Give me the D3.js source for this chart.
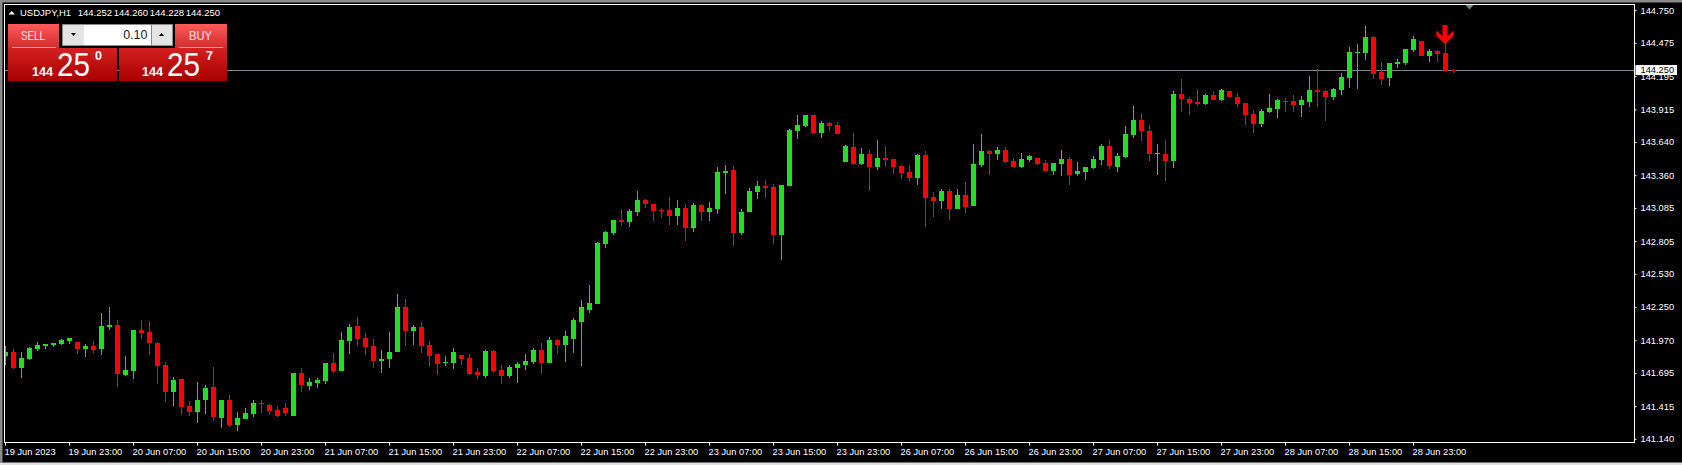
<!DOCTYPE html>
<html><head><meta charset="utf-8">
<script src="https://cdn.jsdelivr.net/npm/d3@7/dist/d3.min.js"></script>
<style>html,body{margin:0;padding:0;background:#000;overflow:hidden}svg{display:block}text{font-family:"Liberation Sans",Arial,sans-serif}</style>
</head><body><script>
const opens=[141.840,141.874,141.739,141.815,141.899,141.925,141.933,141.942,141.967,141.958,
141.899,141.925,141.899,142.085,142.102,141.680,141.714,142.059,142.043,141.950,
141.765,141.537,141.647,141.419,141.369,141.470,141.579,141.318,141.470,141.259,
141.310,141.352,141.444,141.428,141.385,141.403,141.335,141.698,141.588,141.613,
141.630,141.782,141.715,141.968,142.094,141.993,141.925,141.799,141.816,141.875,
142.254,142.052,142.086,141.934,141.858,141.782,141.782,141.850,141.824,141.706,
141.672,141.883,141.723,141.672,141.740,141.765,141.790,141.891,141.782,141.976,
141.933,141.984,142.127,142.228,142.279,142.785,142.877,142.987,142.970,143.054,
143.155,143.122,143.071,143.071,143.020,143.088,142.919,143.113,143.054,143.079,
143.383,143.408,142.877,143.054,143.223,143.273,143.265,142.860,143.273,143.737,
143.779,143.871,143.720,143.804,143.787,143.475,143.602,143.459,143.543,143.433,
143.509,143.501,143.442,143.391,143.341,143.534,143.181,143.147,143.231,143.079,
143.197,143.105,143.450,143.568,143.543,143.576,143.484,143.433,143.492,143.509,
143.467,143.400,143.459,143.501,143.374,143.391,143.425,143.492,143.610,143.433,
143.517,143.703,143.829,143.736,143.543,143.543,143.484,144.048,144.006,143.981,
143.964,144.040,143.997,144.073,144.023,143.972,143.880,143.795,143.896,143.922,
143.989,143.989,143.955,143.981,144.082,144.073,144.023,144.082,144.183,144.393,
144.393,144.528,144.233,144.183,144.301,144.309,144.419,144.495,144.368,144.410,
144.393,144.252];
const highs=[141.925,141.897,141.874,141.916,141.958,141.942,141.950,141.984,141.992,141.958,
141.942,141.967,142.203,142.253,142.144,141.840,142.059,142.144,142.135,141.958,
141.790,141.664,141.647,141.461,141.621,141.596,141.748,141.470,141.512,141.369,
141.402,141.470,141.470,141.436,141.419,141.445,141.698,141.740,141.656,141.656,
141.782,141.866,142.043,142.111,142.170,142.035,141.984,141.892,142.043,142.364,
142.321,142.102,142.128,141.968,141.858,141.841,141.909,141.850,141.858,141.740,
141.891,141.891,141.765,141.765,141.790,141.858,141.908,141.950,142.001,141.984,
142.051,142.161,142.312,142.439,142.801,142.894,142.987,143.079,143.079,143.231,
143.164,143.122,143.088,143.181,143.155,143.122,143.130,143.122,143.138,143.433,
143.450,143.442,143.079,143.256,143.315,143.324,143.290,143.282,143.753,143.871,
143.871,143.871,143.821,143.812,143.812,143.619,143.720,143.593,143.576,143.661,
143.610,143.501,143.450,143.450,143.543,143.568,143.223,143.248,143.248,143.248,
143.307,143.627,143.711,143.576,143.602,143.602,143.509,143.552,143.534,143.509,
143.492,143.467,143.576,143.518,143.475,143.433,143.526,143.627,143.660,143.551,
143.778,143.947,143.888,143.787,143.627,143.660,144.073,144.174,144.023,144.090,
144.048,144.073,144.090,144.073,144.056,143.972,143.913,143.922,144.048,144.006,
144.014,144.040,144.031,144.200,144.259,144.082,144.099,144.225,144.444,144.469,
144.621,144.537,144.318,144.309,144.343,144.427,144.537,144.495,144.427,144.419,
144.469,144.260];
const lows=[141.765,141.731,141.655,141.807,141.883,141.899,141.916,141.933,141.942,141.857,
141.832,141.866,141.849,142.059,141.579,141.672,141.647,141.984,141.849,141.605,
141.453,141.419,141.343,141.335,141.276,141.352,141.293,141.234,141.242,141.211,
141.310,141.327,141.360,141.343,141.327,141.335,141.335,141.537,141.554,141.571,
141.605,141.698,141.715,141.858,141.925,141.850,141.740,141.701,141.740,141.875,
141.925,141.934,141.866,141.749,141.681,141.757,141.732,141.765,141.681,141.647,
141.656,141.698,141.605,141.656,141.613,141.723,141.774,141.689,141.782,141.858,
141.790,141.866,141.756,142.203,142.279,142.751,142.860,142.936,142.928,143.020,
143.088,142.978,143.004,142.945,142.945,142.810,142.886,142.978,142.978,143.037,
143.206,142.768,142.860,143.054,143.164,143.172,142.785,142.650,143.273,143.669,
143.770,143.711,143.678,143.737,143.711,143.475,143.450,143.450,143.231,143.408,
143.433,143.374,143.332,143.315,143.282,142.928,143.012,143.079,142.987,143.079,
143.046,143.105,143.433,143.366,143.492,143.467,143.433,143.425,143.475,143.450,
143.400,143.366,143.358,143.282,143.358,143.324,143.416,143.450,143.416,143.391,
143.509,143.677,143.652,143.484,143.366,143.315,143.425,143.896,143.871,143.947,
143.955,143.997,143.989,144.014,143.939,143.787,143.719,143.770,143.888,143.846,
143.896,143.896,143.855,143.939,143.939,143.821,143.997,144.040,144.099,144.090,
144.334,144.174,144.124,144.116,144.267,144.293,144.402,144.368,144.318,144.318,
144.233,144.228];
const closes=[141.874,141.739,141.824,141.908,141.933,141.942,141.950,141.975,141.992,141.899,
141.925,141.891,142.093,142.102,141.689,141.722,142.059,142.034,141.950,141.756,
141.537,141.638,141.411,141.369,141.470,141.571,141.327,141.470,141.259,141.318,
141.360,141.444,141.436,141.377,141.335,141.361,141.698,141.597,141.622,141.639,
141.782,141.715,141.976,142.086,141.984,141.917,141.799,141.816,141.875,142.254,
142.052,142.086,141.925,141.841,141.774,141.791,141.875,141.816,141.689,141.681,
141.883,141.715,141.672,141.748,141.774,141.799,141.891,141.782,141.976,141.934,
142.009,142.144,142.254,142.287,142.793,142.886,142.987,142.970,143.063,143.155,
143.122,143.063,143.063,143.020,143.088,142.919,143.113,143.054,143.088,143.391,
143.400,142.877,143.054,143.231,143.273,143.256,142.860,143.282,143.745,143.787,
143.871,143.720,143.804,143.779,143.711,143.610,143.459,143.543,143.433,143.509,
143.492,143.433,143.383,143.341,143.534,143.172,143.147,143.231,143.079,143.197,
143.096,143.459,143.568,143.543,143.576,143.475,143.433,143.501,143.526,143.459,
143.400,143.467,143.501,143.366,143.400,143.433,143.500,143.610,143.441,143.526,
143.711,143.829,143.736,143.543,143.551,143.484,144.048,144.006,143.972,143.964,
144.040,143.997,144.082,144.023,143.964,143.871,143.795,143.905,143.930,143.997,
143.981,143.955,143.997,144.082,144.065,144.023,144.090,144.191,144.402,144.402,
144.528,144.217,144.174,144.309,144.318,144.427,144.511,144.368,144.410,144.389,
144.242,144.250];
const yTicks=[144.750,144.475,144.195,143.915,143.640,143.360,143.085,142.805,142.530,142.250,141.970,141.695,141.415,141.140];
const timeLabels=["19 Jun 2023","19 Jun 23:00","20 Jun 07:00","20 Jun 15:00","20 Jun 23:00","21 Jun 07:00","21 Jun 15:00","21 Jun 23:00","22 Jun 07:00","22 Jun 15:00","22 Jun 23:00","23 Jun 07:00","23 Jun 15:00","23 Jun 23:00","26 Jun 07:00","26 Jun 15:00","26 Jun 23:00","27 Jun 07:00","27 Jun 15:00","27 Jun 23:00","28 Jun 07:00","28 Jun 15:00","28 Jun 23:00"];
const titleParts=["USDJPY,H1","144.252","144.260","144.228","144.250"];
const bidPrice=144.250, signalBar=180;

const W=1682,H=465,L=4.5,T=4.5,R=1634.5,B=442.5;
const x=d3.scaleLinear().domain([0,181]).range([5.5,1453.5]);
const y=d3.scaleLinear().domain([144.75,141.14]).range([10.7,439.3]);
const svg=d3.select("body").append("svg").attr("width",W).attr("height",H);
const defs=svg.append("defs");
defs.append("clipPath").attr("id","plot").append("rect").attr("x",L).attr("y",T).attr("width",R-L).attr("height",B-T);
function grad(id,a,b){const g=defs.append("linearGradient").attr("id",id).attr("x1",0).attr("x2",0).attr("y1",0).attr("y2",1);
 g.append("stop").attr("offset",0).attr("stop-color",a);g.append("stop").attr("offset",1).attr("stop-color",b);}
grad("btn","#ff5a5a","#d42a2a");grad("box","#d42020","#a80000");
svg.append("rect").attr("width",W).attr("height",H).attr("fill","#000");
svg.append("rect").attr("width",W).attr("height",2.5).attr("fill","#8a8a8a");
svg.append("rect").attr("width",2.5).attr("height",462.5).attr("fill","#8a8a8a");
svg.append("rect").attr("y",462.5).attr("width",W).attr("height",3).attr("fill","#e0e0e0");

// price line
const plot=svg.append("g").attr("clip-path","url(#plot)");
plot.append("line").attr("x1",L).attr("x2",R).attr("y1",Math.round(y(bidPrice))+.5).attr("y2",Math.round(y(bidPrice))+.5).attr("stroke","#778899");

const idx=d3.range(opens.length);
const isUp=i=>closes[i]>=opens[i];
plot.append("g").selectAll("rect").data(idx).join("rect")
 .attr("x",i=>x(i)-.5).attr("width",1)
 .attr("y",i=>Math.round(y(highs[i]))).attr("height",i=>Math.max(1,Math.round(y(lows[i]))-Math.round(y(highs[i]))))
 .attr("fill",i=>isUp(i)?"#22d822":"#e01212");
plot.append("g").selectAll("rect").data(idx).join("rect")
 .attr("x",i=>x(i)-2.5).attr("width",5)
 .attr("y",i=>Math.round(y(Math.max(opens[i],closes[i]))))
 .attr("height",i=>Math.max(1,Math.round(y(Math.min(opens[i],closes[i])))-Math.round(y(Math.max(opens[i],closes[i])))))
 .attr("fill",i=>isUp(i)?"#24de24":"#ff0000");

// sell arrow
const ax=x(signalBar)-.5, ay=y(highs[signalBar]);
svg.append("path").attr("transform",`translate(${ax},${ay})`)
 .attr("d","M-2.5,-19L2.5,-19L2.5,-8L8.7,-13.5L8.7,-8.5L0,0.5L-8.7,-8.5L-8.7,-13.5L-2.5,-8Z").attr("fill","#ff0000");

// shift marker
const sx=x(181)+16;
svg.append("path").attr("transform",`translate(${sx},${T})`).attr("d","M-4.5,0L4.5,0L0,5Z").attr("fill","#708494");

// axes
const yAxis=d3.axisRight(y).tickValues(yTicks).tickSize(2).tickPadding(4).tickFormat(d3.format(".3f")).offset(0);
const gy=svg.append("g").attr("transform",`translate(${R},0)`).call(yAxis);
const xAxis=d3.axisBottom(x).tickValues(timeLabels.map((d,i)=>i*8)).tickSize(3).tickFormat(d=>timeLabels[d/8]).offset(0);
const gx=svg.append("g").attr("transform",`translate(0,${B})`).call(xAxis);
[gy,gx].forEach(g=>{g.select(".domain").remove();g.selectAll("line").attr("stroke","#fff");g.selectAll("text").attr("fill","#fff").attr("font-size",9.3).attr("font-family",'"Liberation Sans"');});
gx.selectAll("text").attr("text-anchor","start").attr("x",-1).attr("y",12).attr("dy",0);
svg.append("rect").attr("x",L).attr("y",T).attr("width",R-L).attr("height",B-T).attr("fill","none").attr("stroke","#fff");

// bid box
const by=y(bidPrice);
svg.append("rect").attr("x",R+1).attr("y",by-5).attr("width",41.5).attr("height",10).attr("fill","#fff");
svg.append("text").attr("x",R+6).attr("y",by+3.3).attr("font-size",9.3).attr("fill","#000").text(d3.format(".3f")(bidPrice));

// title
svg.append("path").attr("d","M8.5,14.5L15,14.5L11.7,11Z").attr("fill","#fff");
const tx=[20,77.7,113.7,149.7,185.7];
svg.append("g").selectAll("text").data(titleParts).join("text").attr("x",(d,i)=>tx[i]).attr("y",16).attr("font-size",9.5).attr("fill","#fff").text(d=>d);

// trade panel
const p=svg.append("g");
const rct=(a,b,w,h,f)=>p.append("rect").attr("x",a).attr("y",b).attr("width",w).attr("height",h).attr("fill",f);
const txt=(a,b,s,size,w,fill,extra)=>{const t=p.append("text").attr("x",a).attr("y",b).attr("font-size",size).attr("font-weight",w).attr("fill",fill).text(s);if(extra)t.attr("textLength",extra).attr("lengthAdjust","spacingAndGlyphs");return t;};
rct(8,24,51,24,"url(#btn)");rct(175,24,52,24,"url(#btn)");
rct(8,48,109,33,"url(#box)");rct(119,48,108,33,"url(#box)");
rct(12,47,44,1,"#f0a0a0");rct(179,47,44,1,"#f0a0a0");
txt(21,40,"SELL",12.5,"normal","#ffe8e8",24);txt(189,40,"BUY",12.5,"normal","#ffe8e8",23);
rct(62,24,111,22,"#8a8a8a");rct(63,25,21,20,"#e4e4e4");rct(84,25,67,20,"#fff");rct(152,25,20,20,"#e4e4e4");
p.append("path").attr("d","M71,33L76,33L73.5,36Z").attr("fill","#000");
p.append("path").attr("d","M159,36L164,36L161.5,33Z").attr("fill","#000");
txt(147.5,39,"0.10",12.5,"normal","#222").attr("text-anchor","end");
txt(32,76,"144",13.5,"bold","#fff",21);txt(57,76,"25",33,"normal","#fff",33);txt(95,59.5,"0",12,"bold","#fff",7);
txt(142,76,"144",13.5,"bold","#fff",21);txt(167,76,"25",33,"normal","#fff",33);txt(206,59.5,"7",12,"bold","#fff",7);
</script></body></html>
